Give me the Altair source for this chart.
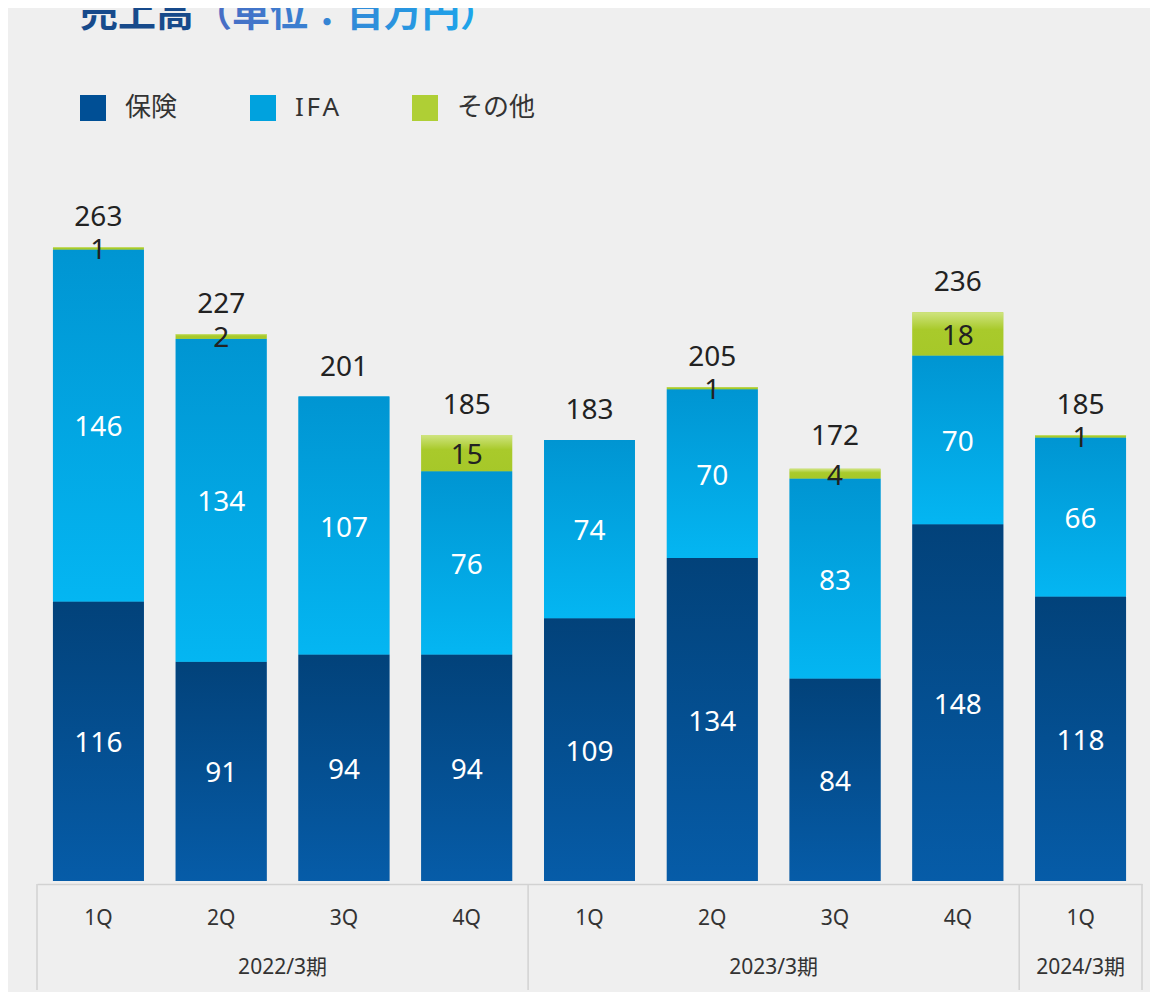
import altair as alt
import pandas as pd

# ---- data ----
years = ["2022/3期"] * 4 + ["2023/3期"] * 4 + ["2024/3期"]
quarters = ["1Q", "2Q", "3Q", "4Q", "1Q", "2Q", "3Q", "4Q", "1Q"]
series_names = ["保険", "IFA", "その他"]
hoken = [116, 91, 94, 94, 109, 134, 84, 148, 118]
ifa = [146, 134, 107, 76, 74, 70, 83, 70, 66]
other = [1, 2, 0, 15, 0, 1, 4, 18, 1]
totals = [263, 227, 201, 185, 183, 205, 172, 236, 185]

FONT = "Noto Sans, Noto Sans CJK JP, sans-serif"
W, H = 1105, 711

keys = [f"{y}|{q}" for y, q in zip(years, quarters)]

rows = []
for i, k in enumerate(keys):
    for order, (name, vals) in enumerate(zip(series_names, [hoken, ifa, other])):
        rows.append({"key": k, "series": name, "order": order, "value": vals[i]})
seg = pd.DataFrame(rows)
tot = pd.DataFrame({"key": keys, "total": totals})

# year groups
group_names = list(dict.fromkeys(years))
groups = {g: [k for k, y in zip(keys, years) if y == g] for g in group_names}
yl_multi = pd.DataFrame([{"year": g, "anchor": m[1]} for g, m in groups.items() if len(m) > 1])
yl_single = pd.DataFrame([{"year": g, "anchor": m[0]} for g, m in groups.items() if len(m) == 1])
sep_start = pd.DataFrame([{"key": m[0]} for m in groups.values()])
sep_end = pd.DataFrame([{"key": keys[-1]}])

xscale = alt.Scale(domain=keys, paddingInner=0.26, paddingOuter=0.13)
x_axis = alt.Axis(
    title=None, ticks=False, domainColor="#d2d2d2", domainWidth=1.5, offset=3,
    labelExpr="split(datum.value, '|')[1]", labelFontSize=21, labelColor="#333333",
    labelFont=FONT, labelPadding=23, labelAngle=0,
)
X = alt.X("key:N", scale=xscale, axis=x_axis)
yscale = alt.Scale(domain=[0, 295])

stacked = (
    alt.Chart(seg)
    .transform_filter("datum.value > 0")
    .transform_stack(stack="value", groupby=["key"], as_=["y0", "y1"],
                     sort=[alt.SortField(field="order", order="ascending")])
)

solid_bars = stacked.mark_bar().encode(
    x=X,
    y=alt.Y("y1:Q", scale=yscale, axis=None),
    y2="y0:Q",
    color=alt.Color(
        "series:N",
        scale=alt.Scale(domain=series_names, range=["#004f95", "#00a2de", "#afcf35"]),
        legend=alt.Legend(
            orient="none", legendX=43, legendY=-75, direction="horizontal", title=None,
            symbolType="square", symbolSize=676, symbolStrokeWidth=0,
            labelFontSize=26, labelColor="#333333", labelFont=FONT,
            columnPadding=72, labelOffset=19, padding=0,
            labelExpr="datum.label == 'IFA' ? 'I\u200aF\u200aA' : datum.label",
        ),
    ),
)

def grad(stops):
    return alt.Gradient(gradient="linear", x1=0, x2=0, y1=0, y2=1,
                        stops=[alt.GradientStop(offset=o, color=c) for o, c in stops])

gradients = {
    "保険": grad([(0, "#02427a"), (1, "#065ca8")]),
    "IFA": grad([(0, "#0095d2"), (1, "#04b6f2")]),
    "その他": grad([(0, "#cfe47f"), (0.4, "#a9ca2b"), (1, "#a6c829")]),
}

grad_layers = [
    stacked.transform_filter(alt.datum.series == name)
    .mark_bar(color=g)
    .encode(x=X, y=alt.Y("y1:Q", scale=yscale), y2="y0:Q")
    for name, g in gradients.items()
]

seg_labels = (
    stacked.transform_calculate(mid="(datum.y0 + datum.y1) / 2")
    .mark_text(fontSize=28, baseline="middle", font=FONT, dy=3)
    .encode(
        x=X,
        y=alt.Y("mid:Q", scale=yscale),
        text="value:Q",
        color=alt.condition("datum.series == 'その他'", alt.value("#222222"), alt.value("#ffffff")),
    )
)

total_labels = alt.Chart(tot).mark_text(
    fontSize=28, baseline="alphabetic", dy=-21, color="#222222", font=FONT
).encode(x=X, y=alt.Y("total:Q", scale=yscale), text="total:Q")

step = W / len(keys)
half_gap = step * 0.13

year_multi = alt.Chart(yl_multi).mark_text(
    fontSize=21, color="#333333", baseline="middle", font=FONT, dx=step / 2
).encode(x=alt.X("anchor:N", scale=xscale), y=alt.value(798), text="year:N")
year_single = alt.Chart(yl_single).mark_text(
    fontSize=21, color="#333333", baseline="middle", font=FONT
).encode(x=alt.X("anchor:N", scale=xscale), y=alt.value(798), text="year:N")

rule_start = alt.Chart(sep_start).mark_rule(
    color="#d2d2d2", strokeWidth=1.5, xOffset=-half_gap
).encode(x=alt.X("key:N", scale=xscale, bandPosition=0), y=alt.value(714), y2=alt.value(820))
rule_end = alt.Chart(sep_end).mark_rule(
    color="#d2d2d2", strokeWidth=1.5, xOffset=half_gap
).encode(x=alt.X("key:N", scale=xscale, bandPosition=1), y=alt.value(714), y2=alt.value(820))

title_grad = (
    "{gradient: 'linear', x1: 0, y1: 0, x2: 1, y2: 0, stops: ["
    "{offset: 0, color: '#174a8b'}, {offset: 0.29, color: '#174a8b'}, "
    "{offset: 0.30, color: '#4a6ac2'}, {offset: 1, color: '#19aaee'}]}"
)

chart = (
    alt.layer(solid_bars, *grad_layers, seg_labels, total_labels,
              year_multi, year_single, rule_start, rule_end)
    .properties(
        width=W, height=H,
        padding={"left": 29, "top": 162, "right": 8, "bottom": 111},
        autosize=alt.AutoSizeParams(type="none"),
        background="#efefef",
        title=alt.TitleParams(
            text="売上高（単位：百万円）", anchor="start", frame="group",
            fontSize=38, fontWeight="bold", font="Noto Sans CJK JP",
            color=alt.ExprRef(title_grad), dx=43, dy=-31, baseline="alphabetic", offset=0,
        ),
    )
    .configure_view(stroke=None)
)

chart.save("out.html", embed_options={"renderer": "svg", "actions": False})
